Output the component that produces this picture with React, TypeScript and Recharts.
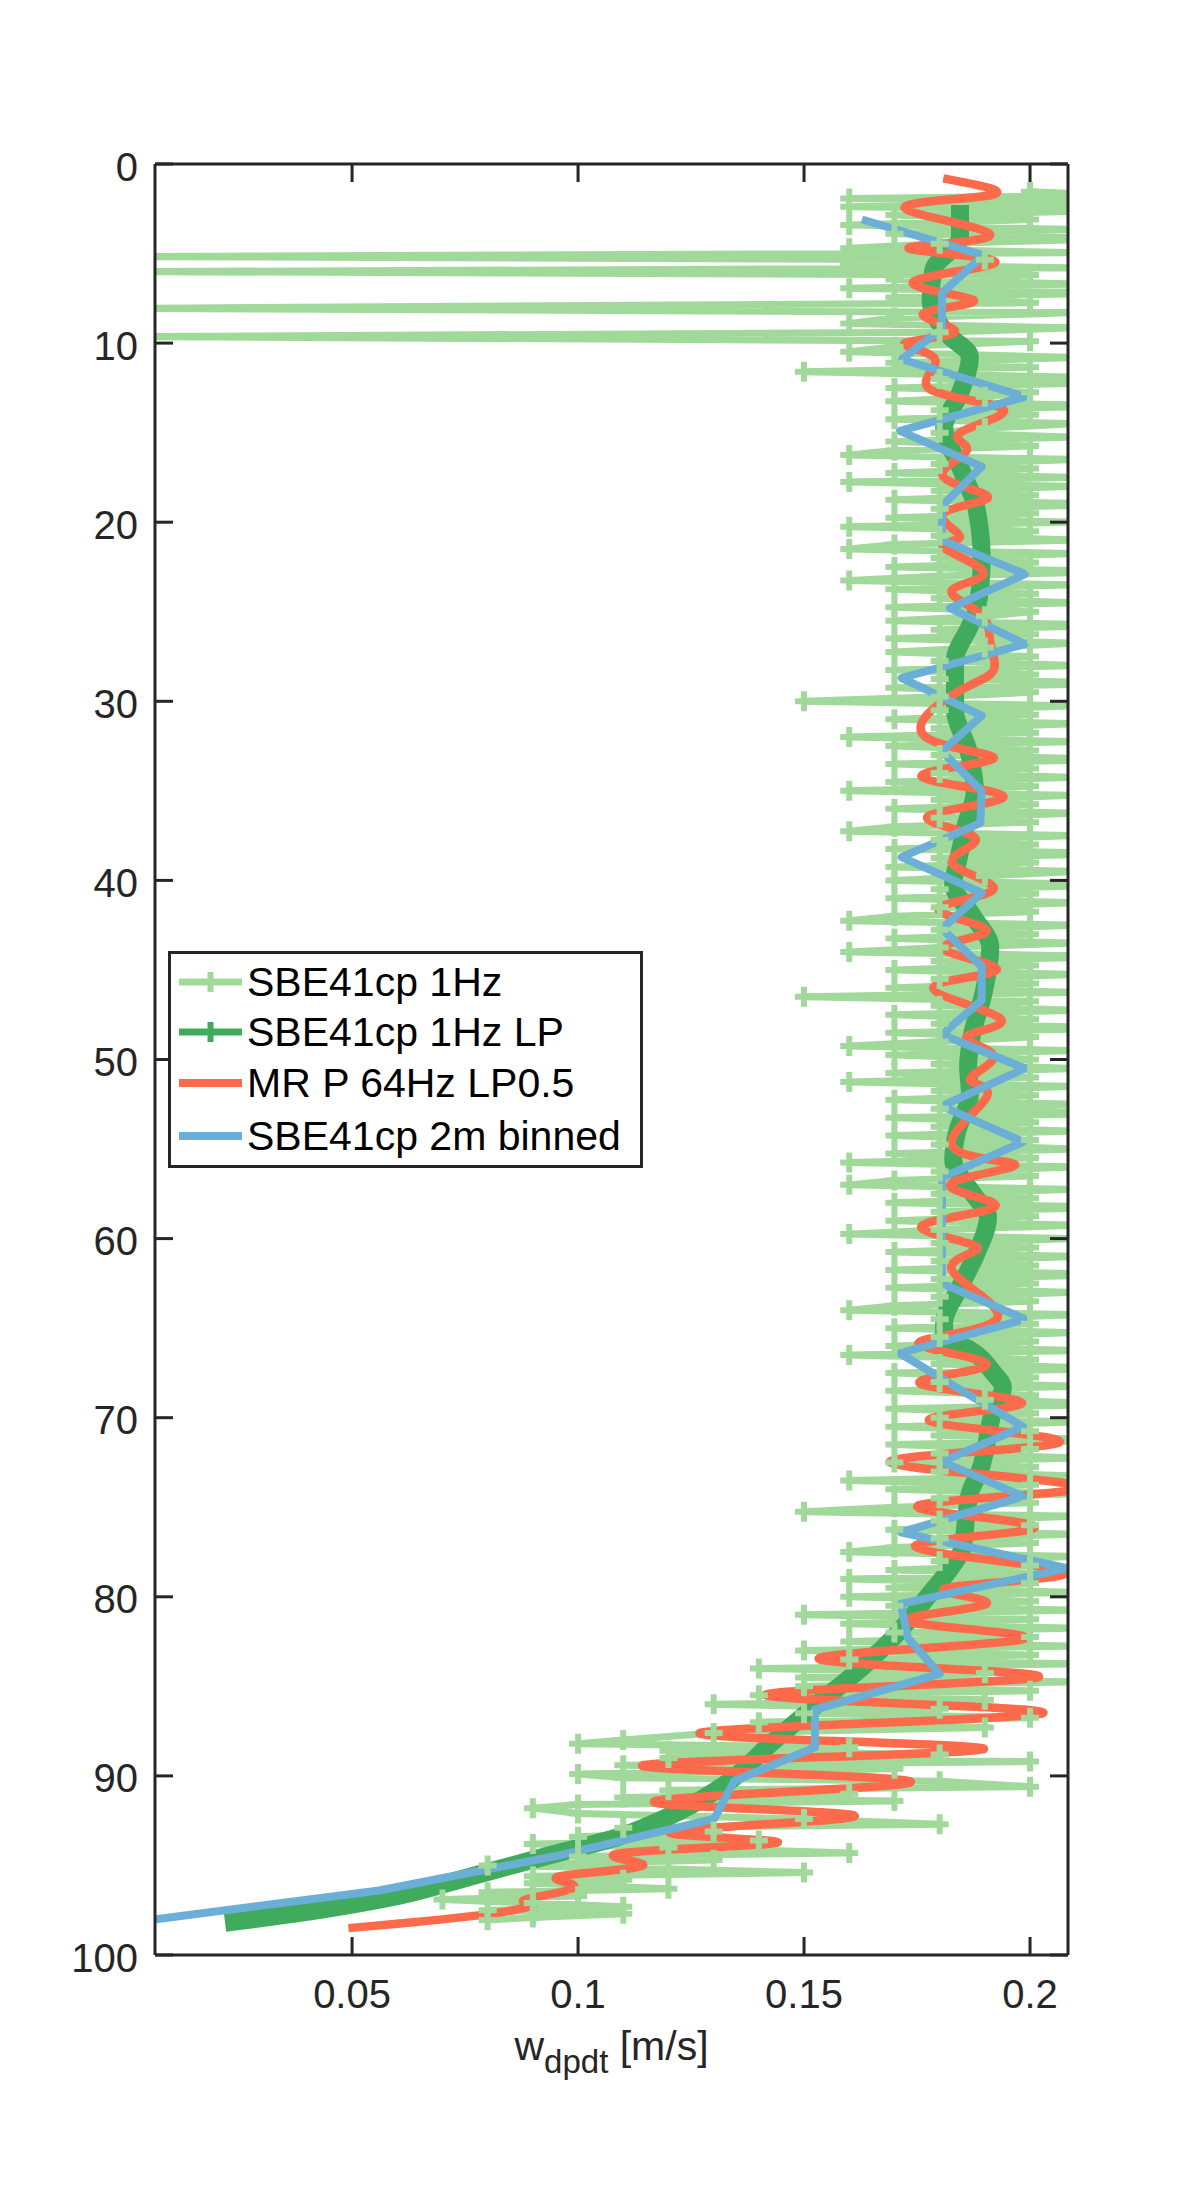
import React from 'react';
import { LineChart, Line, XAxis, YAxis } from 'recharts';

const depthTicks = [0, 10, 20, 30, 40, 50, 60, 70, 80, 90, 100];
const wTicks = [0.05, 0.1, 0.15, 0.2];
const seriesNames = ['SBE41cp 1Hz', 'SBE41cp 1Hz LP', 'MR P 64Hz LP0.5', 'SBE41cp 2m binned'];
const seriesColors = ['#A1D99B', '#41AB5D', '#FB6A4A', '#6BAED6'];

// SBE41cp 1Hz : [depth, w]
const sbe1Hz: [number, number][] = [
  [1.55, 0.2], [1.75, 0.22], [1.92, 0.16], [2.15, 0.21], [2.38, 0.16], [2.6, 0.22], [2.85, 0.17], [3.1, 0.2],
  [3.4, 0.16], [3.65, 0.21], [3.9, 0.17], [4.15, 0.22], [4.45, 0.18], [4.71, 0.16], [4.95, 0.21], [5.17, 0],
  [5.35, 0.19], [5.6, 0.16], [5.8, 0.21], [6.01, 0], [6.2, 0.2], [6.45, 0.17], [6.7, 0.21], [6.94, 0.16],
  [7.2, 0.22], [7.45, 0.17], [7.75, 0.2], [8.06, 0], [8.3, 0.21], [8.6, 0.17], [8.9, 0.16], [9.15, 0.21],
  [9.4, 0.18], [9.64, 0], [9.9, 0.2], [10.2, 0.17], [10.48, 0.16], [10.8, 0.21], [11.1, 0.17], [11.35, 0.2],
  [11.6, 0.15], [11.9, 0.21],
  [12.0, 0.18], [12.25, 0.21], [12.5, 0.17], [12.75, 0.2], [13.0, 0.19], [13.25, 0.17], [13.5, 0.22], [13.75, 0.18],
  [14.0, 0.2], [14.25, 0.17], [14.5, 0.21], [14.75, 0.19], [15.0, 0.18], [15.25, 0.21], [15.5, 0.17], [15.75, 0.2],
  [16.0, 0.17], [16.25, 0.16], [16.5, 0.21], [16.75, 0.18], [17.0, 0.2], [17.25, 0.17], [17.5, 0.21], [17.75, 0.16],
  [18.0, 0.21], [18.25, 0.18], [18.5, 0.2], [18.75, 0.17], [19.0, 0.22], [19.25, 0.18], [19.5, 0.2], [19.75, 0.17],
  [20.0, 0.21], [20.25, 0.16], [20.5, 0.2], [20.75, 0.18], [21.0, 0.21], [21.25, 0.17], [21.5, 0.16], [21.75, 0.21],
  [22.0, 0.18], [22.25, 0.2], [22.5, 0.17], [22.75, 0.22], [23.0, 0.18], [23.25, 0.16], [23.5, 0.21], [23.75, 0.17],
  [24.0, 0.2], [24.25, 0.18], [24.5, 0.21], [24.75, 0.17], [25.0, 0.2], [25.25, 0.19], [25.5, 0.17], [25.75, 0.22],
  [26.0, 0.18], [26.25, 0.2], [26.5, 0.17], [26.75, 0.21], [27.0, 0.19], [27.25, 0.17], [27.5, 0.2], [27.75, 0.18],
  [28.0, 0.21], [28.25, 0.17], [28.5, 0.2], [28.75, 0.18], [29.0, 0.22], [29.25, 0.17], [29.5, 0.2], [29.75, 0.18],
  [30.0, 0.15], [30.25, 0.21], [30.5, 0.18], [30.75, 0.2], [31.0, 0.17], [31.25, 0.21], [31.5, 0.18], [31.75, 0.2],
  [32.0, 0.16], [32.25, 0.21], [32.5, 0.17], [32.75, 0.2], [33.0, 0.18], [33.25, 0.22], [33.5, 0.17], [33.75, 0.2],
  [34.0, 0.18], [34.25, 0.21], [34.5, 0.17], [34.75, 0.2], [35.0, 0.16], [35.25, 0.21], [35.5, 0.18], [35.75, 0.2],
  [36.0, 0.17], [36.25, 0.21], [36.5, 0.18], [36.75, 0.2], [37.0, 0.17], [37.25, 0.16], [37.5, 0.21], [37.75, 0.18],
  [38.0, 0.2], [38.25, 0.17], [38.5, 0.22], [38.75, 0.18], [39.0, 0.2], [39.25, 0.17], [39.5, 0.21], [39.75, 0.19],
  [40.0, 0.17], [40.25, 0.22], [40.5, 0.18], [40.75, 0.2], [41.0, 0.17], [41.25, 0.21], [41.5, 0.18], [41.75, 0.2],
  [42.0, 0.17], [42.25, 0.16], [42.5, 0.21], [42.75, 0.18], [43.0, 0.2], [43.25, 0.17], [43.5, 0.21], [43.75, 0.18],
  [44.0, 0.16], [44.25, 0.22], [44.5, 0.18], [44.75, 0.2], [45.0, 0.17], [45.25, 0.21], [45.5, 0.18], [45.75, 0.2],
  [46.0, 0.17], [46.25, 0.21], [46.5, 0.15], [46.75, 0.2], [47.0, 0.18], [47.25, 0.21], [47.5, 0.17], [47.75, 0.2],
  [48.0, 0.18], [48.25, 0.22], [48.5, 0.17], [48.75, 0.2], [49.0, 0.18], [49.25, 0.16], [49.5, 0.21], [49.75, 0.17],
  [50.0, 0.2], [50.25, 0.18], [50.5, 0.21], [50.75, 0.17], [51.0, 0.2], [51.25, 0.16], [51.5, 0.21], [51.75, 0.18],
  [52.0, 0.2], [52.25, 0.17], [52.5, 0.21], [52.75, 0.18], [53.0, 0.22], [53.25, 0.17], [53.5, 0.2], [53.75, 0.18],
  [54.0, 0.21], [54.25, 0.17], [54.5, 0.2], [54.75, 0.18], [55.0, 0.21], [55.25, 0.17], [55.5, 0.2], [55.75, 0.16],
  [56.0, 0.21], [56.25, 0.18], [56.5, 0.2], [56.75, 0.17], [57.0, 0.16], [57.25, 0.21], [57.5, 0.18], [57.75, 0.2],
  [58.0, 0.17], [58.25, 0.22], [58.5, 0.18], [58.75, 0.2], [59.0, 0.17], [59.25, 0.21], [59.5, 0.18], [59.75, 0.16],
  [60.0, 0.21], [60.25, 0.18], [60.5, 0.2], [60.75, 0.17], [61.0, 0.21], [61.25, 0.18], [61.5, 0.2], [61.75, 0.17],
  [62.0, 0.22], [62.25, 0.18], [62.5, 0.2], [62.75, 0.17], [63.0, 0.21], [63.25, 0.18], [63.5, 0.2], [63.75, 0.17],
  [64.0, 0.16], [64.25, 0.21], [64.5, 0.18], [64.75, 0.2], [65.0, 0.17], [65.25, 0.21], [65.5, 0.18], [65.75, 0.2],
  [66.0, 0.17], [66.25, 0.21], [66.5, 0.16], [66.75, 0.2], [67.0, 0.18], [67.25, 0.22], [67.5, 0.17], [67.75, 0.2],
  [68.0, 0.18], [68.25, 0.21], [68.5, 0.17], [68.75, 0.2], [69.0, 0.19], [69.25, 0.22], [69.5, 0.17], [69.75, 0.2],
  [70.0, 0.18], [70.25, 0.21], [70.5, 0.17], [70.75, 0.2], [71.0, 0.18], [71.25, 0.22], [71.5, 0.17], [71.75, 0.2],
  [72.0, 0.18], [72.25, 0.21], [72.5, 0.17], [72.75, 0.2], [73.0, 0.18], [73.25, 0.21], [73.5, 0.16], [73.75, 0.2],
  [74.0, 0.17], [74.25, 0.21], [74.5, 0.18], [74.75, 0.2], [75.0, 0.17], [75.25, 0.15], [75.5, 0.21], [75.75, 0.18],
  [76.0, 0.2], [76.25, 0.17], [76.5, 0.21], [76.75, 0.18], [77.0, 0.2], [77.25, 0.17], [77.5, 0.16], [77.75, 0.21],
  [78.0, 0.18], [78.25, 0.2], [78.5, 0.17], [78.75, 0.21], [79.0, 0.16], [79.25, 0.2], [79.5, 0.17], [79.75, 0.21],
  [80.0, 0.16], [80.25, 0.2], [80.5, 0.17], [80.75, 0.21], [81.0, 0.15], [81.25, 0.2], [81.5, 0.16], [81.75, 0.21],
  [82.0, 0.17], [82.25, 0.2], [82.5, 0.16], [82.75, 0.21], [83.0, 0.15], [83.25, 0.2], [83.5, 0.16], [83.75, 0.21],
  [84.0, 0.14], [84.25, 0.19], [84.5, 0.15], [84.75, 0.21], [85.0, 0.15], [85.25, 0.2], [85.5, 0.14], [85.75, 0.19],
  [86.0, 0.13], [86.25, 0.18], [86.5, 0.15], [86.75, 0.2], [87.0, 0.14], [87.3, 0.19], [87.6, 0.13], [88.0, 0.11],
  [88.2, 0.1], [88.4, 0.16], [88.6, 0.12], [88.8, 0.18], [89.0, 0.12], [89.2, 0.2], [89.4, 0.11], [89.6, 0.17],
  [89.9, 0.1], [90.1, 0.11], [90.3, 0.18], [90.6, 0.2], [90.8, 0.12], [91.0, 0.16], [91.2, 0.11], [91.4, 0.17],
  [91.6, 0.1], [91.8, 0.09], [92.1, 0.1], [92.4, 0.15], [92.7, 0.18], [92.9, 0.11], [93.1, 0.13], [93.4, 0.1],
  [93.6, 0.14], [93.8, 0.09], [94.0, 0.12], [94.3, 0.16], [94.5, 0.1], [94.7, 0.13], [95.0, 0.08], [95.2, 0.12],
  [95.4, 0.15], [95.6, 0.09], [95.8, 0.11], [96.0, 0.09], [96.3, 0.12], [96.5, 0.08], [96.7, 0.1], [96.9, 0.07],
  [97.1, 0.09], [97.3, 0.11], [97.5, 0.08], [97.7, 0.11], [97.9, 0.09], [98.05, 0.08],
];

// SBE41cp 1Hz LP : [depth, w]
const sbeLP: [number, number][] = [
  [2.29, 0.1845], [4.06, 0.1845], [5.92, 0.1786], [7.59, 0.178], [9.45, 0.1815], [10.76, 0.1867], [12.8, 0.1845],
  [14.7, 0.181], [16.9, 0.1845], [19.3, 0.1882], [22.1, 0.1893], [24.9, 0.1882], [25.8, 0.1867], [27.7, 0.1834],
  [30.5, 0.1834], [32.7, 0.1863], [34.95, 0.1878], [37.0, 0.1857], [39.0, 0.184], [40.2, 0.183], [42.0, 0.1874],
  [43.7, 0.1912], [46.3, 0.1897], [48.7, 0.1871], [50.4, 0.1863], [51.9, 0.1867], [54.1, 0.1838], [55.6, 0.183],
  [57.5, 0.1874], [58.8, 0.1907], [60.8, 0.1882], [62.7, 0.1845], [64.7, 0.181], [65.5, 0.181], [66.2, 0.1867],
  [67.5, 0.1919], [68.3, 0.194], [69.6, 0.1919], [71.4, 0.1904], [72.9, 0.189], [74.2, 0.1867], [75.3, 0.186],
  [77.4, 0.1849], [78.3, 0.1827], [80.0, 0.1773], [82.0, 0.1708], [84.1, 0.1621], [86.1, 0.1524], [88.2, 0.1426],
  [90.4, 0.1329], [91.9, 0.123], [93.4, 0.109], [94.5, 0.0927], [95.6, 0.0765], [96.7, 0.0602], [97.7, 0.037],
  [98.2, 0.0219],
];

// MR P 64Hz LP0.5 : [depth, w]
const mrP: [number, number][] = [
  [0.8, 0.1808], [1.73, 0.1915], [2.47, 0.1723], [3.96, 0.1912], [4.7, 0.1731], [5.45, 0.1923], [6.57, 0.1742],
  [7.6, 0.1875], [8.34, 0.1764], [9.36, 0.1834], [10.0, 0.1723], [10.9, 0.179], [12.6, 0.178], [13.7, 0.1941],
  [15.0, 0.1845], [16.0, 0.186], [17.46, 0.1808], [18.6, 0.1907], [19.5, 0.1808], [20.8, 0.1845], [21.4, 0.1808],
  [22.8, 0.1897], [23.8, 0.1827], [25.1, 0.189], [26.7, 0.1912], [28.3, 0.1919], [29.5, 0.1838], [31.97, 0.1768],
  [33.2, 0.1919], [34.2, 0.176], [35.3, 0.1941], [36.4, 0.1775], [37.6, 0.1878], [39.0, 0.1827], [40.5, 0.1919],
  [41.6, 0.1797], [42.8, 0.1904], [43.8, 0.1808], [45.0, 0.1926], [46.0, 0.1786], [47.7, 0.1934], [48.7, 0.186],
  [49.8, 0.1919], [51.1, 0.1867], [52.1, 0.1904], [54.9, 0.183], [55.9, 0.1967], [57.0, 0.1823], [58.2, 0.1923],
  [59.3, 0.176], [60.45, 0.1882], [61.75, 0.1827], [64.5, 0.1926], [65.85, 0.1753], [67.05, 0.1904], [68.1, 0.1757],
  [69.2, 0.1982], [70.2, 0.1779], [71.4, 0.2063], [72.5, 0.169], [73.85, 0.211], [74.9, 0.1753], [76.1, 0.2011],
  [77.2, 0.1746], [78.6, 0.2077], [79.5, 0.1816], [80.4, 0.1903], [81.4, 0.1735], [82.4, 0.1979], [83.5, 0.1535],
  [84.5, 0.2017], [85.5, 0.1415], [86.5, 0.2028], [87.6, 0.1269], [88.5, 0.1898], [89.4, 0.1144], [90.3, 0.1735],
  [91.4, 0.1171], [92.2, 0.161], [93.1, 0.1209], [93.7, 0.1442], [94.3, 0.11], [95.0, 0.1144], [95.6, 0.096],
  [96.2, 0.0992], [96.9, 0.0884], [97.2, 0.09], [97.8, 0.0775], [98.5, 0.0492],
];

// SBE41cp 2m binned
const binDepth = [
  3.1, 5.1, 7.2, 9.2, 10.9, 13.0, 14.9, 16.9, 19.1, 21.0, 22.9, 24.8, 26.8, 28.7, 30.8, 32.8, 35.0,
  36.8, 38.7, 40.7, 42.7, 44.8, 46.7, 48.6, 50.5, 52.6, 54.6, 56.6, 58.6, 60.6, 62.5, 64.5, 66.4, 68.5,
  70.5, 72.45, 74.4, 76.4, 78.4, 80.4, 82.3, 84.3, 86.3, 88.4, 90.3, 92.4, 94.4, 96.4, 98.0,
];
const binW = [
  0.1628, 0.1897, 0.1805, 0.1805, 0.1716, 0.1989, 0.1712, 0.1893, 0.1805, 0.1805, 0.1989, 0.1823, 0.1989,
  0.1716, 0.1893, 0.1805, 0.1893, 0.189, 0.1716, 0.1893, 0.1805, 0.1893, 0.1893, 0.1805, 0.1989, 0.1805,
  0.1985, 0.1805, 0.1805, 0.1805, 0.1805, 0.1989, 0.1712, 0.185, 0.1985, 0.1805, 0.1985, 0.1714, 0.2082,
  0.1714, 0.173, 0.18, 0.1524, 0.1524, 0.1345, 0.1301, 0.0965, 0.056, 0.0066,
];

const X_DOMAIN: [number, number] = [0.0064, 0.2084];
const Y_DOMAIN: [number, number] = [0, 100];

const toRows = (pairs: [number, number][]) => pairs.map(([d, w]) => ({ d, w }));
const lightData = toRows(sbe1Hz);
const lpData = toRows(sbeLP);
const mrData = toRows(mrP);
const binData = binDepth.map((d, i) => ({ d, w: binW[i] }));

const AX = '#262626';
const FONT = '"Liberation Sans", Arial, Helvetica, sans-serif';
const TICK_FS = 40;
const TICK_LEN = 18;

const BottomTick = (props: any) => {
  const { x, y, payload } = props;
  const axisY = y - 27;
  return (
    <g>
      <line x1={x} x2={x} y1={axisY} y2={axisY - TICK_LEN} stroke={AX} strokeWidth={3} />
      <text x={x} y={y + 26} textAnchor="middle" fontSize={TICK_FS} fontFamily={FONT} fill={AX}>
        {String(payload.value)}
      </text>
    </g>
  );
};

const TopTick = (props: any) => {
  const { x, y } = props;
  return <line x1={x} x2={x} y1={y} y2={y + TICK_LEN} stroke={AX} strokeWidth={3} />;
};

const LeftTick = (props: any) => {
  const { x, y, payload } = props;
  const axisX = x + 17;
  return (
    <g>
      <line x1={axisX} x2={axisX + TICK_LEN} y1={y} y2={y} stroke={AX} strokeWidth={3} />
      <text x={x} y={y + 16.5} textAnchor="end" fontSize={TICK_FS} fontFamily={FONT} fill={AX}>
        {String(payload.value)}
      </text>
    </g>
  );
};

const RightTick = (props: any) => {
  const { x, y } = props;
  return <line x1={x} x2={x - TICK_LEN} y1={y} y2={y} stroke={AX} strokeWidth={3} />;
};

const AxisTitle = (props: any) => {
  const vb = props.viewBox || { x: 147, y: 1947, width: 913 };
  const cx = vb.x + vb.width / 2;
  return (
    <text x={cx} y={vb.y + 105} textAnchor="middle" fontSize={41} fontFamily={FONT} fill={AX}>
      <tspan>w</tspan>
      <tspan fontSize={33} dy={13}>dpdt</tspan>
      <tspan dy={-13}> [m/s]</tspan>
    </text>
  );
};

const PlusDot = (props: any) => {
  const { cx, cy, index, payload } = props;
  if (cx == null || cy == null || !payload || payload.w < X_DOMAIN[0] || payload.w > X_DOMAIN[1]) {
    return <g key={`p-${index}`} />;
  }
  return (
    <path
      key={`p-${index}`}
      d={`M${cx - 9},${cy}h18M${cx},${cy - 10}v20`}
      stroke={seriesColors[0]}
      strokeWidth={6}
      fill="none"
    />
  );
};

const LegendBox = () => {
  const rowY = [31, 81, 132, 185];
  const widths = [7, 7, 8, 8];
  return (
    <svg
      width={476}
      height={218}
      style={{ position: 'absolute', left: 160, top: 943 }}
    >
      <rect x={1.5} y={1.5} width={472} height={214} fill="#ffffff" stroke={AX} strokeWidth={3} />
      {seriesNames.map((name, i) => (
        <g key={name}>
          <line x1={11} x2={74} y1={rowY[i]} y2={rowY[i]} stroke={seriesColors[i]} strokeWidth={widths[i]} />
          {i < 2 && (
            <path
              d={`M${42.5 - 9},${rowY[i]}h18M${42.5},${rowY[i] - 10}v20`}
              stroke={seriesColors[i]}
              strokeWidth={6}
            />
          )}
          <text x={79} y={rowY[i] + 14} fontSize={41} fontFamily={FONT} fill="#000000">
            {name}
          </text>
        </g>
      ))}
    </svg>
  );
};

export default function App() {
  const W = 1165;
  const H = 2182;
  return (
    <div style={{ position: 'relative', width: W, height: H, background: '#ffffff' }}>
      <LineChart
        width={W}
        height={H}
        layout="vertical"
        margin={{ top: 146, right: 95, bottom: 175, left: 87 }}
      >
        <XAxis
          xAxisId="b"
          type="number"
          orientation="bottom"
          domain={X_DOMAIN}
          allowDataOverflow
          ticks={wTicks}
          interval={0}
          height={60}
          tickSize={0}
          tickMargin={27}
          tickLine={false}
          axisLine={{ stroke: AX, strokeWidth: 3 }}
          tick={<BottomTick />}
          label={<AxisTitle />}
        />
        <XAxis
          xAxisId="t"
          type="number"
          orientation="top"
          domain={X_DOMAIN}
          allowDataOverflow
          ticks={wTicks}
          interval={0}
          height={10}
          tickSize={0}
          tickMargin={0}
          tickLine={false}
          axisLine={{ stroke: AX, strokeWidth: 3 }}
          tick={<TopTick />}
        />
        <YAxis
          yAxisId="l"
          type="number"
          dataKey="d"
          orientation="left"
          domain={Y_DOMAIN}
          allowDataOverflow
          ticks={depthTicks}
          interval={0}
          width={60}
          tickSize={0}
          tickMargin={17}
          tickLine={false}
          axisLine={{ stroke: AX, strokeWidth: 3 }}
          tick={<LeftTick />}
        />
        <YAxis
          yAxisId="r"
          type="number"
          dataKey="d"
          orientation="right"
          domain={Y_DOMAIN}
          allowDataOverflow
          ticks={depthTicks}
          interval={0}
          width={10}
          tickSize={0}
          tickMargin={0}
          tickLine={false}
          axisLine={{ stroke: AX, strokeWidth: 3 }}
          tick={<RightTick />}
        />
        <Line
          xAxisId="b"
          yAxisId="l"
          data={lightData}
          dataKey="w"
          type="linear"
          stroke={seriesColors[0]}
          strokeWidth={7}
          strokeLinejoin="round"
          dot={PlusDot}
          activeDot={false}
          isAnimationActive={false}
        />
        <Line
          xAxisId="b"
          yAxisId="l"
          data={lpData}
          dataKey="w"
          type="monotone"
          stroke={seriesColors[1]}
          strokeWidth={18}
          dot={false}
          activeDot={false}
          isAnimationActive={false}
        />
        <Line
          xAxisId="b"
          yAxisId="l"
          data={mrData}
          dataKey="w"
          type="natural"
          stroke={seriesColors[2]}
          strokeWidth={8.5}
          dot={false}
          activeDot={false}
          isAnimationActive={false}
        />
        <Line
          xAxisId="b"
          yAxisId="l"
          data={binData}
          dataKey="w"
          type="linear"
          stroke={seriesColors[3]}
          strokeWidth={8}
          strokeLinejoin="round"
          dot={false}
          activeDot={false}
          isAnimationActive={false}
        />
      </LineChart>
      <LegendBox />
    </div>
  );
}
